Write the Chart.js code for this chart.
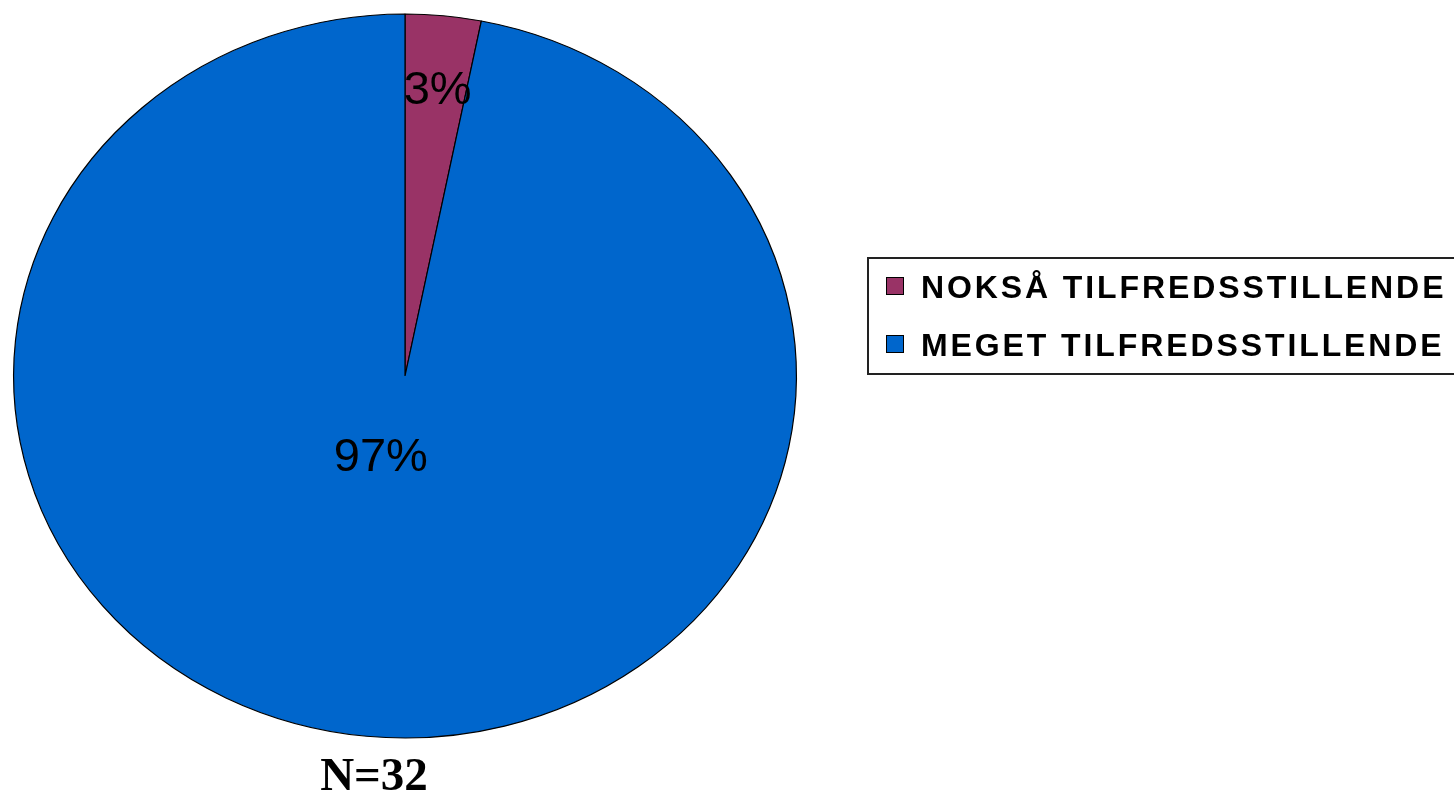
<!DOCTYPE html>
<html>
<head>
<meta charset="utf-8">
<script src="https://cdn.jsdelivr.net/npm/chart.js@4"></script>
<style>
  html, body { margin: 0; padding: 0; background: #fff; overflow: hidden; }
  #wrap { position: relative; width: 1454px; height: 793px; }
  #pie { position: absolute; left: 0; top: 0; }
  #legend {
    position: absolute; left: 867px; top: 257px; width: 640px; height: 118px;
    border: 2px solid #222; box-sizing: border-box;
    font: bold 32px "Liberation Sans", Arial, sans-serif; letter-spacing: 2.9px; color: #000;
  }
  .item { position: absolute; left: 17px; height: 34px; line-height: 34px; white-space: nowrap; }
  .item span.box {
    position: absolute; left: 0; top: 7px; width: 16px; height: 16px; border: 1px solid #000;
  }
  .item span.txt { position: absolute; left: 35px; top: 0; }
  #n {
    position: absolute; left: 274px; width: 200px; top: 747px; text-align: center;
    font: bold 47px "Liberation Serif", "Times New Roman", serif; color: #000;
  }
</style>
</head>
<body>
<div id="wrap">
  <canvas id="pie" width="1454" height="793"></canvas>
  <div id="legend"></div>
  <div id="n"></div>
</div>
<script>
const categories = ['NOKSÅ TILFREDSSTILLENDE', 'MEGET TILFREDSSTILLENDE'];
const counts = [1, 31];
const colors = ['#993366', '#0066CC'];
const totalN = 32;

const total = counts.reduce((a, b) => a + b, 0);
const percentLabels = counts.map(v => Math.round(v / total * 100) + '%');

// pie is drawn as an ellipse: squash vertically around its centre
const squash = {
  id: 'squash',
  beforeDatasetsDraw(chart, args, opts) {
    const arc = chart.getDatasetMeta(0).data[0];
    const ctx = chart.ctx;
    ctx.save();
    ctx.translate(arc.x, opts.centerY);
    ctx.scale(1, opts.ry / arc.outerRadius);
    ctx.translate(-arc.x, -arc.y);
  },
  afterDatasetsDraw(chart, args, opts) {
    const ctx = chart.ctx;
    ctx.restore();
    const meta = chart.getDatasetMeta(0);
    ctx.save();
    ctx.fillStyle = '#000';
    ctx.font = '47px "Liberation Sans", Arial, sans-serif';
    ctx.textAlign = 'center';
    ctx.textBaseline = 'middle';
    meta.data.forEach((arc, i) => {
      const mid = (arc.startAngle + arc.endAngle) / 2;
      const f = opts.labelRadius[i];
      const x = arc.x + Math.cos(mid) * arc.outerRadius * f + opts.labelShift[i][0];
      const y = opts.centerY + Math.sin(mid) * opts.ry * f + opts.labelShift[i][1];
      ctx.fillText(percentLabels[i], x, y);
    });
    ctx.restore();
  }
};

new Chart(document.getElementById('pie'), {
  type: 'pie',
  data: {
    labels: categories,
    datasets: [{
      data: counts,
      backgroundColor: colors,
      borderColor: '#000',
      borderWidth: 1.2,
      hoverOffset: 0
    }]
  },
  options: {
    responsive: false,
    animation: false,
    events: [],
    layout: { padding: { left: 13, right: 657, top: 0, bottom: 9 } },
    plugins: {
      legend: { display: false },
      tooltip: { enabled: false },
      squash: { centerY: 376, ry: 362, labelRadius: [0.8, 0.24], labelShift: [[2, 3], [-15, -4]] }
    }
  },
  plugins: [squash]
});

const legend = document.getElementById('legend');
categories.forEach((c, i) => {
  const d = document.createElement('div');
  d.className = 'item';
  d.style.top = (11 + i * 58) + 'px';
  d.innerHTML = '<span class="box" style="background:' + colors[i] + '"></span><span class="txt">' + c + '</span>';
  legend.appendChild(d);
});
document.getElementById('n').textContent = 'N=' + totalN;
</script>
</body>
</html>
